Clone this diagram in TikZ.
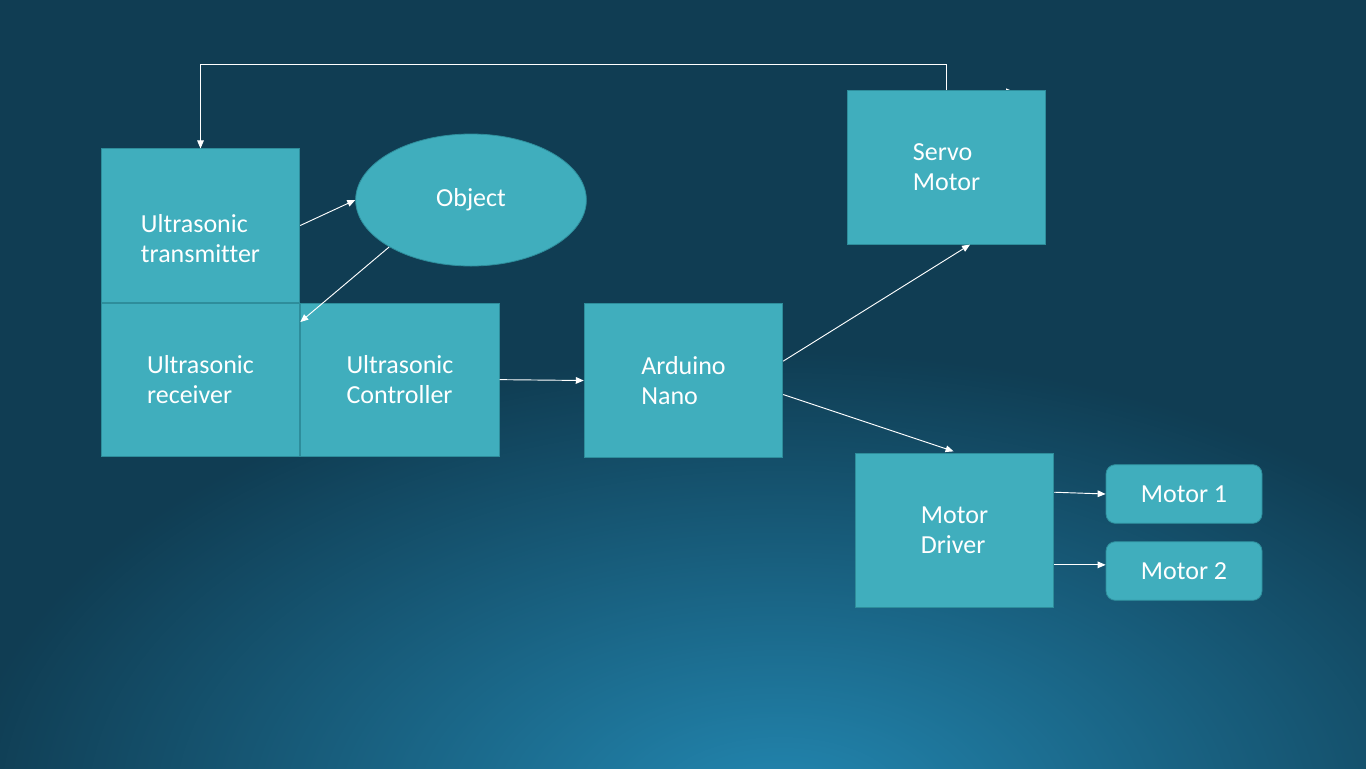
\documentclass[tikz,border=0pt]{standalone}
\usepackage{fontspec}
\setmainfont{Carlito}[Ligatures=NoCommon]
\usetikzlibrary{arrows.meta,shapes,positioning,backgrounds,fadings}
\definecolor{bgdark}{HTML}{103D53}
\definecolor{bgmid}{HTML}{144963}
\definecolor{bgglow}{HTML}{2388B2}
\definecolor{boxfill}{HTML}{40AEBD}
\definecolor{boxline}{HTML}{2E8D9B}
\tikzfading[name=glowfade,inner color=transparent!0,outer color=transparent!100]

\begin{document}
\begin{tikzpicture}[x=0.75pt,y=-0.75pt,
  block/.style={rectangle,draw=boxline,fill=boxfill,line width=0.6pt,
    minimum width=149pt,minimum height=115pt,text=white,align=left,
    font=\fontsize{19.5}{22.5}\selectfont},
  motor/.style={block,rounded corners=7pt,minimum width=117pt,minimum height=44pt},
  object/.style={ellipse,draw=boxline,fill=boxfill,line width=0.6pt,
    minimum width=173pt,minimum height=99pt,text=white,
    font=\fontsize{19.5}{22.5}\selectfont},
  link/.style={draw=white,line width=0.7pt,-{Triangle[length=6pt,width=5pt]}}]

  \useasboundingbox (0,0) rectangle (1366,768);

  \node[block] (transmitter) at (200.5,225.5) {\rule{0pt}{33pt}Ultrasonic\\transmitter};
  \node[block] (receiver) [below=0pt of transmitter] {Ultrasonic\\receiver};
  \node[block] (controller) [right=0pt of receiver] {Ultrasonic\\Controller};
  \node[object] (object) at (471,200) {Object};
  \node[block] (arduino) at (683.5,380.5) {Arduino\\Nano};
  \node[block] (servo) at (946.5,167.5) {Servo\\Motor};
  \node[block] (driver) at (954.5,530.5) {Motor\\Driver};
  \node[motor] (motor1) at (1184,494) {Motor 1};
  \node[motor] (motor2) at (1184,571) {Motor 2};
  \coordinate (stub) at (1014,91.8);

  \begin{scope}[on background layer]
    \clip (0,0) rectangle (1366,768);
    \fill[left color=bgdark,middle color=bgmid,right color=bgdark] (0,0) rectangle (1366,768);
    \fill[bgglow,path fading=glowfade] (780,810) ellipse (820 and 460);
    \draw[link] (servo.north |- stub) -- (stub);
  \end{scope}

  \draw[link] (transmitter.east) -- (object.west);
  \draw[link] (object.south west) -- (receiver.30);
  \draw[link] (controller.east) -- (arduino.west);
  \draw[link] (arduino.11) -- (servo.-73);
  \draw[link,shorten >=5pt] (arduino.-8) -- (driver.86);
  \draw[link] (driver.21) -- (motor1.west);
  \draw[link] (driver.-19.5) -- (driver.-19.5 -| motor2.west);
  \draw[link] (servo.north) -- ++(0,-26) -| (transmitter.north);
\end{tikzpicture}
\end{document}
